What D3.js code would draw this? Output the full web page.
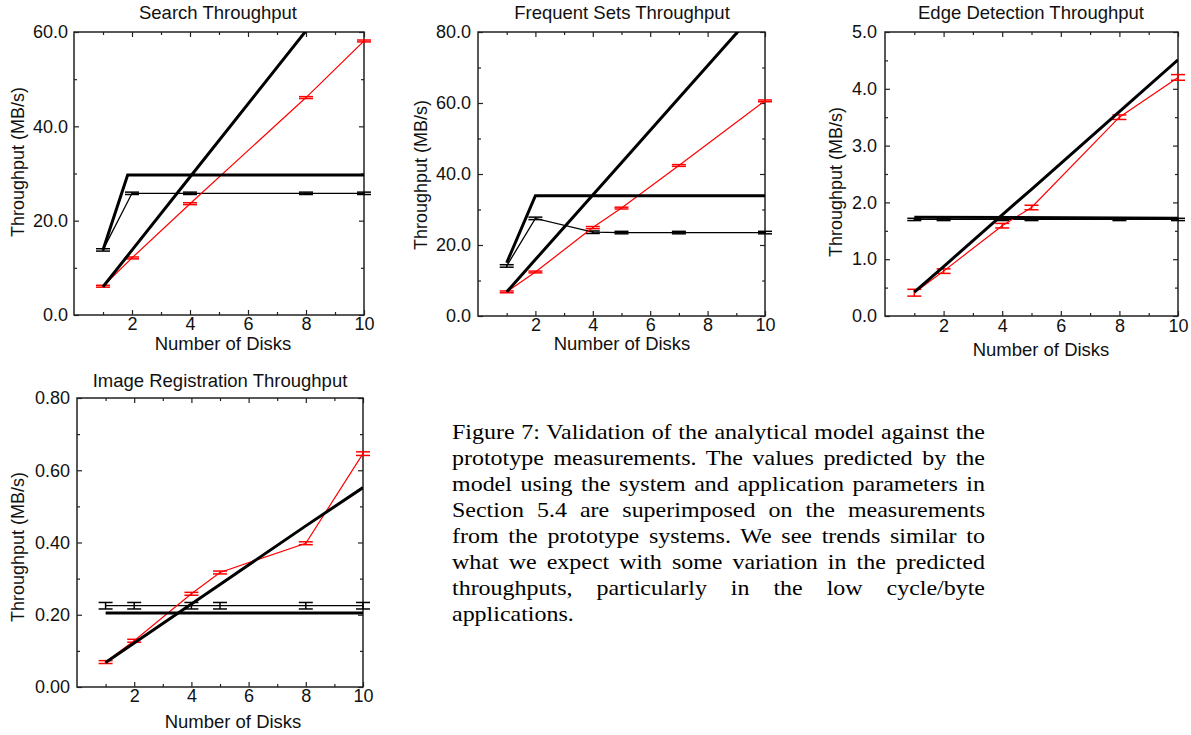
<!DOCTYPE html>
<html><head><meta charset="utf-8">
<script src="https://cdn.jsdelivr.net/npm/d3@7"></script>
<style>body{margin:0;background:#fff;} svg{display:block;}</style>
</head><body>
<svg id="chart" width="1191" height="735"></svg>
<script>
// ---------------- DATA ----------------
const xTicks = [2, 4, 6, 8, 10];
const xMinorTicks = [1, 3, 5, 7, 9];

// Search
const searchDisks = [1, 2, 4, 8, 10];
const searchMeasured = [6.1, 12.1, 23.6, 46.1, 58.1];
const searchMeasuredErr = [0.2, 0.2, 0.2, 0.2, 0.2];
const searchBaseline = [13.8, 25.8, 25.8, 25.8, 25.8];
const searchBaselineErr = [0.25, 0.25, 0.25, 0.25, 0.25];
const searchModelLinear = [6.0, 13.75, 29.25, 60.25, 75.75];
const searchModelFlatDisks = [1, 1.85, 10];
const searchModelFlat = [13.8, 29.7, 29.7];
const searchYTicks = [0, 20, 40, 60];

// Frequent Sets
const freqDisks = [1, 2, 4, 5, 7, 10];
const freqMeasured = [6.8, 12.4, 24.9, 30.4, 42.4, 60.6];
const freqMeasuredErr = [0.25, 0.25, 0.3, 0.25, 0.25, 0.25];
const freqBaseline = [14.1, 27.5, 23.6, 23.5, 23.5, 23.5];
const freqBaselineErr = [0.35, 0.35, 0.35, 0.35, 0.35, 0.35];
const freqModelLinear = [6.8, 15.9, 34.1, 43.2, 61.4, 88.7];
const freqModelFlatDisks = [1, 2, 10];
const freqModelFlat = [15.0, 33.9, 33.9];
const freqYTicks = [0, 20, 40, 60, 80];

// Edge Detection
const edgeDisks = [1, 2, 4, 5, 8, 10];
const edgeMeasured = [0.41, 0.79, 1.59, 1.91, 3.50, 4.20];
const edgeMeasuredErr = [0.06, 0.04, 0.04, 0.04, 0.04, 0.05];
const edgeBaseline = [1.70, 1.70, 1.70, 1.70, 1.70, 1.70];
const edgeBaselineErr = [0.02, 0.02, 0.02, 0.02, 0.02, 0.02];
const edgeModelLinear = [0.42, 0.87, 1.78, 2.23, 3.60, 4.51];
const edgeModelFlatDisks = [1, 10];
const edgeModelFlat = [1.74, 1.72];
const edgeYTicks = [0, 1, 2, 3, 4, 5];

// Image Registration
const imgDisks = [1, 2, 4, 5, 8, 10];
const imgMeasured = [0.069, 0.128, 0.258, 0.317, 0.398, 0.646];
const imgMeasuredErr = [0.004, 0.004, 0.004, 0.004, 0.004, 0.005];
const imgBaseline = [0.225, 0.225, 0.225, 0.225, 0.225, 0.225];
const imgBaselineErr = [0.009, 0.009, 0.009, 0.009, 0.009, 0.009];
const imgModelLinear = [0.068, 0.122, 0.230, 0.284, 0.446, 0.552];
const imgModelFlatDisks = [1, 10];
const imgModelFlat = [0.205, 0.205];
const imgYTicks = [0, 0.2, 0.4, 0.6, 0.8];

const titles = ["Search Throughput", "Frequent Sets Throughput", "Edge Detection Throughput", "Image Registration Throughput"];
const xLabel = "Number of Disks";
const yLabel = "Throughput (MB/s)";

const captionLines = [
  "Figure 7: Validation of the analytical model against the",
  "prototype measurements. The values predicted by the",
  "model using the system and application parameters in",
  "Section 5.4 are superimposed on the measurements",
  "from the prototype systems. We see trends similar to",
  "what we expect with some variation in the predicted",
  "throughputs, particularly in the low cycle/byte",
  "applications."
];

// ---------------- LAYOUT ----------------
const FONT = '"Liberation Sans", Arial, Helvetica, sans-serif';
const svg = d3.select("#chart");

const panels = [
  { title: titles[0], x0: 74, x1: 364, y0: 32, y1: 315, yMax: 60, yTicks: searchYTicks, fmt: ".1f",
    disks: searchDisks, measured: searchMeasured, measuredErr: searchMeasuredErr,
    baseline: searchBaseline, baselineErr: searchBaselineErr,
    linear: searchModelLinear, flatX: searchModelFlatDisks, flat: searchModelFlat,
    titleX: 218, titleY: 19, ylX: 17.5, ylY: 162, xlX: 223, xlY: 350, yPad: 6, xPad: 2 },
  { title: titles[1], x0: 478, x1: 765, y0: 32, y1: 316, yMax: 80, yTicks: freqYTicks, fmt: ".1f",
    disks: freqDisks, measured: freqMeasured, measuredErr: freqMeasuredErr,
    baseline: freqBaseline, baselineErr: freqBaselineErr,
    linear: freqModelLinear, flatX: freqModelFlatDisks, flat: freqModelFlat,
    titleX: 622, titleY: 19, ylX: 421, ylY: 175, xlX: 622, xlY: 350, yPad: 7, xPad: 2 },
  { title: titles[2], x0: 885, x1: 1178, y0: 32, y1: 316, yMax: 5, yTicks: edgeYTicks, fmt: ".1f",
    disks: edgeDisks, measured: edgeMeasured, measuredErr: edgeMeasuredErr,
    baseline: edgeBaseline, baselineErr: edgeBaselineErr,
    linear: edgeModelLinear, flatX: edgeModelFlatDisks, flat: edgeModelFlat,
    titleX: 1031, titleY: 19, ylX: 836, ylY: 182, xlX: 1041, xlY: 356, yPad: 8, xPad: 3 },
  { title: titles[3], x0: 77, x1: 363, y0: 398, y1: 687, yMax: 0.8, yTicks: imgYTicks, fmt: ".2f",
    disks: imgDisks, measured: imgMeasured, measuredErr: imgMeasuredErr,
    baseline: imgBaseline, baselineErr: imgBaselineErr,
    linear: imgModelLinear, flatX: imgModelFlatDisks, flat: imgModelFlat,
    titleX: 220, titleY: 387, ylX: 17.5, ylY: 547, xlX: 233, xlY: 728, yPad: 7, xPad: 2 }
];

const CAP = 7;

panels.forEach((p, i) => {
  const x = d3.scaleLinear().domain([0, 10]).range([p.x0, p.x1]);
  const y = d3.scaleLinear().domain([0, p.yMax]).range([p.y1, p.y0]);
  const g = svg.append("g");
  const clipId = "clip" + i;
  svg.append("clipPath").attr("id", clipId).append("rect")
    .attr("x", p.x0).attr("y", p.y0).attr("width", p.x1 - p.x0).attr("height", p.y1 - p.y0);

  const yMinor = p.yTicks.slice(1).map((t, k) => (t + p.yTicks[k]) / 2);

  const styleAxis = sel => {
    sel.select(".domain").remove();
    sel.selectAll("line").attr("stroke", "#222").attr("stroke-width", 1.2);
    sel.selectAll("text").attr("fill", "#111").style("font-family", FONT).style("font-size", "18px");
  };
  g.append("g").attr("transform", `translate(0,${p.y1})`)
    .call(d3.axisBottom(x).tickValues(xTicks).tickSize(-5).tickPadding(p.xPad).tickFormat(d3.format("d"))).call(styleAxis);
  g.append("g").attr("transform", `translate(0,${p.y1})`)
    .call(d3.axisBottom(x).tickValues(xMinorTicks).tickSize(-3).tickFormat("")).call(styleAxis);
  g.append("g").attr("transform", `translate(0,${p.y0})`)
    .call(d3.axisTop(x).tickValues(xTicks).tickSize(-5).tickFormat("")).call(styleAxis);
  g.append("g").attr("transform", `translate(0,${p.y0})`)
    .call(d3.axisTop(x).tickValues(xMinorTicks).tickSize(-3).tickFormat("")).call(styleAxis);
  g.append("g").attr("transform", `translate(${p.x0},0)`)
    .call(d3.axisLeft(y).tickValues(p.yTicks).tickSize(-5).tickPadding(p.yPad).tickFormat(d3.format(p.fmt))).call(styleAxis);
  g.append("g").attr("transform", `translate(${p.x0},0)`)
    .call(d3.axisLeft(y).tickValues(yMinor).tickSize(-3).tickFormat("")).call(styleAxis);
  g.append("g").attr("transform", `translate(${p.x1},0)`)
    .call(d3.axisRight(y).tickValues(p.yTicks).tickSize(-5).tickFormat("")).call(styleAxis);
  g.append("g").attr("transform", `translate(${p.x1},0)`)
    .call(d3.axisRight(y).tickValues(yMinor).tickSize(-3).tickFormat("")).call(styleAxis);

  g.append("rect").attr("x", p.x0).attr("y", p.y0).attr("width", p.x1 - p.x0).attr("height", p.y1 - p.y0)
    .attr("fill", "none").attr("stroke", "#222").attr("stroke-width", 1.5);

  const line = d3.line().x(d => x(d[0])).y(d => y(d[1]));

  function errorSeries(vals, errs, color, lw) {
    const pts = p.disks.map((d, k) => [d, vals[k], errs[k]]);
    g.append("path").datum(pts).attr("d", line).attr("fill", "none")
      .attr("stroke", color).attr("stroke-width", lw).attr("clip-path", `url(#${clipId})`);
    const eb = g.append("g").attr("stroke", color).attr("stroke-width", 1.5);
    pts.forEach(pt => {
      const cx = x(pt[0]), yl = y(pt[1] - pt[2]), yh = y(pt[1] + pt[2]);
      eb.append("line").attr("x1", cx).attr("x2", cx).attr("y1", yl).attr("y2", yh);
      eb.append("line").attr("x1", cx - CAP).attr("x2", cx + CAP).attr("y1", yl).attr("y2", yl);
      eb.append("line").attr("x1", cx - CAP).attr("x2", cx + CAP).attr("y1", yh).attr("y2", yh);
    });
  }

  errorSeries(p.baseline, p.baselineErr, "#000", 1.3);
  errorSeries(p.measured, p.measuredErr, "#ff0000", 1.2);

  g.append("path").datum(p.flatX.map((d, k) => [d, p.flat[k]])).attr("d", line)
    .attr("fill", "none").attr("stroke", "#000").attr("stroke-width", 3)
    .attr("stroke-linejoin", "miter").attr("clip-path", `url(#${clipId})`);
  g.append("path").datum(p.disks.map((d, k) => [d, p.linear[k]])).attr("d", line)
    .attr("fill", "none").attr("stroke", "#000").attr("stroke-width", 3)
    .attr("clip-path", `url(#${clipId})`);

  g.append("text").attr("x", p.titleX).attr("y", p.titleY).attr("text-anchor", "middle")
    .style("font-family", FONT).style("font-size", "18.5px").attr("fill", "#111").text(p.title);
  g.append("text").attr("x", p.xlX).attr("y", p.xlY).attr("text-anchor", "middle")
    .style("font-family", FONT).style("font-size", "18.5px").attr("fill", "#111").text(xLabel);
  g.append("text").attr("transform", `translate(${p.ylX + 6},${p.ylY}) rotate(-90)`)
    .attr("text-anchor", "middle")
    .style("font-family", FONT).style("font-size", "18px").attr("fill", "#111").text(yLabel);
});

// caption (justified)
const capScale = 1.09, capWidth = 533, capX = 452, capY0 = 439, capLH = 26;
const cap = svg.append("g");
captionLines.forEach((t, k) => {
  const tx = cap.append("text")
    .attr("transform", `translate(${capX},${capY0 + k * capLH}) scale(${capScale},1)`)
    .style("font-family", '"Liberation Serif", "Times New Roman", Times, serif').style("font-size", "22px")
    .attr("fill", "#000").text(t);
  if (k < captionLines.length - 1) {
    const w = tx.node().getComputedTextLength();
    const spaces = t.split(" ").length - 1;
    tx.attr("word-spacing", (capWidth / capScale - w) / spaces);
  }
});
</script></body></html>
